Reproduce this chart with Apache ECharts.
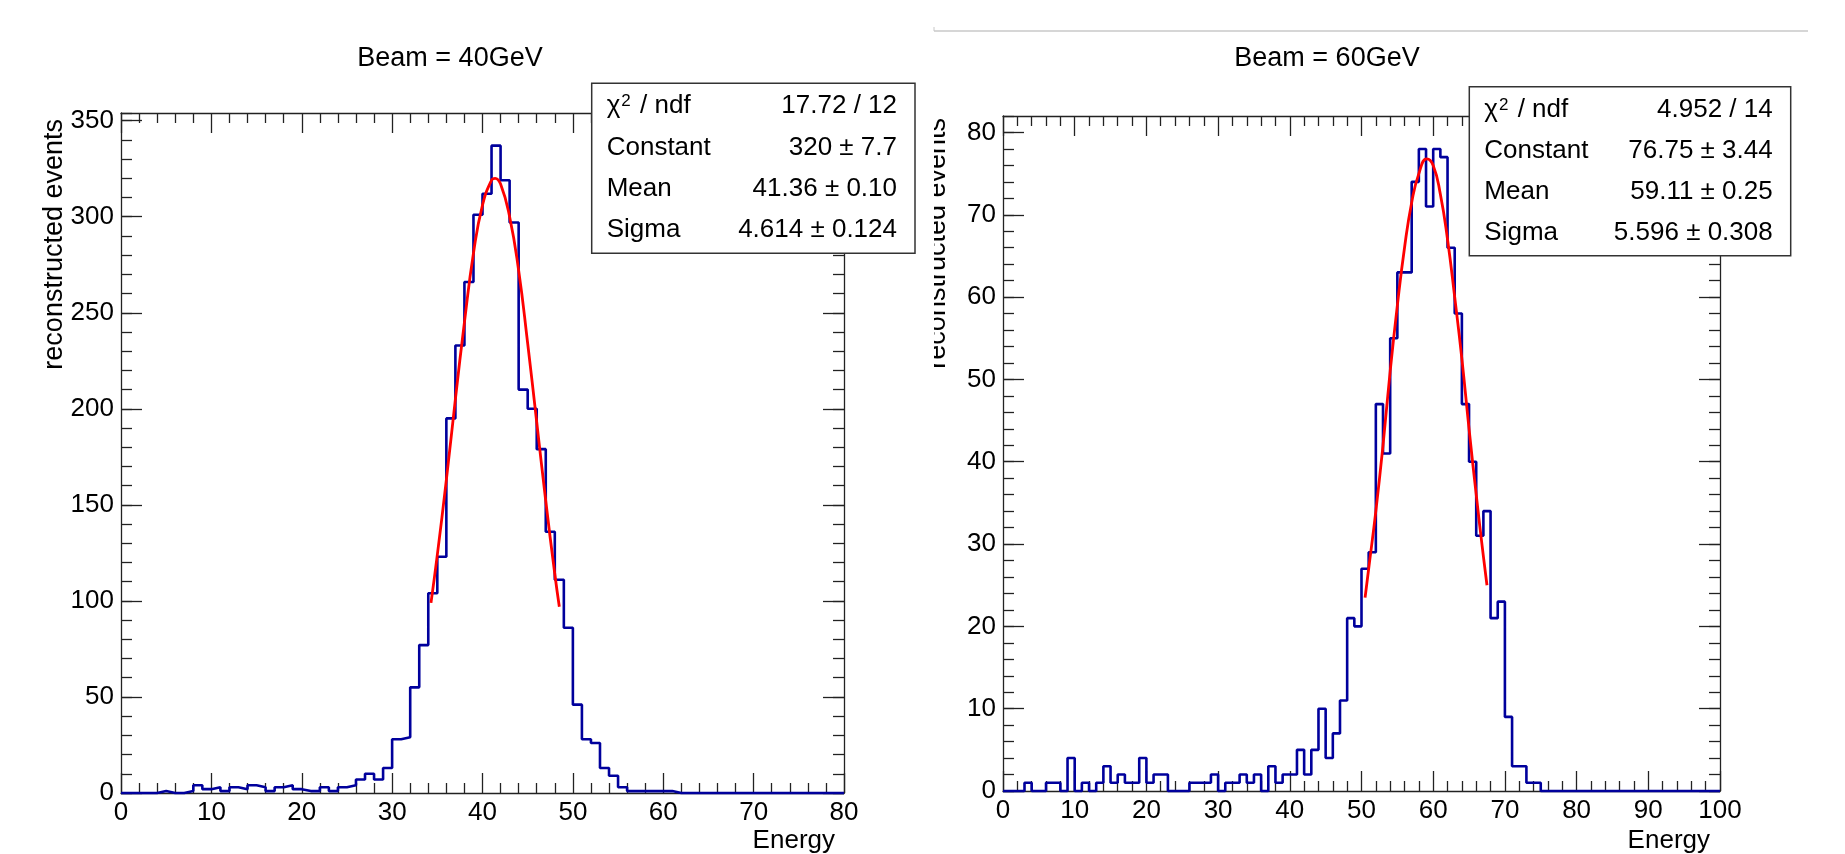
<!DOCTYPE html>
<html><head><meta charset="utf-8">
<script src="https://cdn.jsdelivr.net/npm/echarts@6/dist/echarts.min.js"></script>
<style>html,body{margin:0;padding:0;background:#fff}#c{width:1845px;height:854px}</style>
</head><body><div id="c"></div>
<script>
// ---------------- data ----------------
const leftTitle = 'Beam = 40GeV';
const rightTitle = 'Beam = 60GeV';
const xName = 'Energy';
const yName = 'reconstructed events';

// bin contents, 1 GeV bins starting at 0
const leftCounts = [0,0,0,0,1,0,0,1,4,2, 3,1,3,2,4,3,1,3,4,2,
  1,1,3,1,3,4,7,10,7,13, 28,29,55,77,104,123,195,233,266,301,
  312,337,319,297,210,200,179,136,111,86, 46,28,26,13,9,3,1,1,1,1,
  1,0,0,0,0,0,0,0,0,0, 0,0,0,0,0,0,0,0,0,0];
const rightCounts = [0,0,0,1,0,0,1,1,0,4, 0,1,0,1,3,1,2,1,1,4,
  1,2,2,0,0,0,1,1,1,2, 0,1,1,2,1,2,0,3,1,2,
  2,5,2,5,10,4,7,11,21,20, 27,29,47,41,55,63,63,74,78,71,
  78,77,66,58,47,40,31,34,21,23, 9,3,3,1,1,0,0,0,0,0,
  0,0,0,0,0,0,0,0,0,0, 0,0,0,0,0,0,0,0,0,0];

// fitted gaussian curves
const leftFitX = [34.3,35,36,37,38,39,40,41,41.4,42,43,44,45,46,47,48,48.5];
const leftFitY = [99,124,163,205,245,281,306,319,320,317,300,272,234,193,152,114,97];
const rightFitX = [50.5,51,52,53,54,55,56,57,58,59.1,60,61,62,63,64,65,66,67,67.5];
const rightFitY = [23.5,27,34,42,51,59,66,71.5,75,76.8,76,72.5,67,60,52.5,44,36,28.5,25];

// axis ranges: [min, max, major step, minor step]
const leftXAxis = [0, 80, 10, 2];
const leftYAxis = [0, 354, 50, 10];
const rightXAxis = [0, 100, 10, 2];
const rightYAxis = [0, 82, 10, 2];

// stat boxes
const statNames = ['χ² / ndf', 'Constant', 'Mean', 'Sigma'];
const leftStats = ['17.72 / 12', '320 ± 7.7', '41.36 ± 0.10', '4.614 ± 0.124'];
const rightStats = ['4.952 / 14', '76.75 ± 3.44', '59.11 ± 0.25', '5.596 ± 0.308'];

// ---------------- style ----------------
const FONT = '"Liberation Sans", Arial, Helvetica, sans-serif';
const AX = '#222';
const HIST = '#00009c';
const FIT = '#ff0000';

function histPoints(counts) {
  const pts = counts.map((v, i) => [i, v]);
  pts.push([counts.length, counts[counts.length - 1]]);
  return pts;
}
function zip(xs, ys) { return xs.map((x, i) => [x, ys[i]]); }

function xAxes(gridIndex, r) {
  const base = {
    type: 'value', gridIndex, min: r[0], max: r[1], interval: r[2],
    axisLine: {show: true, onZero: false, lineStyle: {color: AX, width: 1.3}},
    splitLine: {show: false},
    axisTick: {show: true, inside: true, length: 20, lineStyle: {color: AX, width: 1.3}},
    minorTick: {show: true, splitNumber: Math.round(r[2] / r[3]), length: 10, lineStyle: {color: AX, width: 1.3}},
    minorSplitLine: {show: false}
  };
  return [
    Object.assign({}, base, {position: 'bottom',
      axisLabel: {show: true, margin: 7, fontSize: 26, color: '#000', fontFamily: FONT}}),
    Object.assign({}, base, {position: 'top', axisLabel: {show: false}})
  ];
}
function yAxes(gridIndex, r) {
  const mk = (pos, step, len, labels, line) => ({
    type: 'value', gridIndex, position: pos, min: r[0], max: r[1], interval: step,
    axisLine: {show: line, onZero: false, lineStyle: {color: AX, width: 1.3}},
    splitLine: {show: false},
    axisTick: {show: true, inside: true, length: len, lineStyle: {color: AX, width: 1.3}},
    axisLabel: labels ? {show: true, margin: 7, fontSize: 26, color: '#000', fontFamily: FONT, showMaxLabel: false} : {show: false}
  });
  return [
    mk('left', r[2], 21, true, true),
    mk('left', r[3], 11, false, false),
    mk('right', r[2], 21, false, true),
    mk('right', r[3], 11, false, false)
  ];
}

const graphics = [];
function txt(x, y, text, align, vAlign, size, extra) {
  const o = {type: 'text', x, y, z: 101, silent: true,
    style: Object.assign({text, fontSize: size, fontFamily: FONT, fill: '#000',
      align, textAlign: align, verticalAlign: vAlign, textVerticalAlign: vAlign}, extra || {})};
  return o;
}
function statBox(x, y, w, h, vals) {
  graphics.push({type: 'rect', z: 100, silent: true, shape: {x, y, width: w, height: h},
    style: {fill: '#fff', stroke: '#333', lineWidth: 1.5}});
  statNames.forEach((n, i) => {
    const cy = y + 23 + i * 41.2;
    let label = n;
    let extra = null;
    if (n.indexOf('²') >= 0) {
      const parts = n.split('²');
      label = '{t|' + parts[0] + '}{s|2}{t|' + parts[1] + '}';
      extra = {rich: {t: {fontSize: 26, fontFamily: FONT, fill: '#000'},
                      s: {fontSize: 17, fontFamily: FONT, fill: '#000', verticalAlign: 'top', padding: [0, 2, 0, 1]}}};
    }
    graphics.push(txt(x + 15, cy, label, 'left', 'middle', 26, extra));
    graphics.push(txt(x + w - 18, cy, vals[i], 'right', 'middle', 26));
  });
}

// top thin grey line of the right picture
graphics.push({type: 'line', z: 100, silent: true, shape: {x1: 934, y1: 31, x2: 1808, y2: 31}, style: {stroke: '#c8c8c8', lineWidth: 1.5}});
graphics.push({type: 'line', z: 100, silent: true, shape: {x1: 934, y1: 27, x2: 934, y2: 31}, style: {stroke: '#c8c8c8', lineWidth: 1}});

// axis titles
graphics.push(Object.assign(txt(55, 119, yName, 'right', 'middle', 27), {rotation: Math.PI / 2}));
graphics.push(Object.assign(txt(938, 118, yName, 'right', 'middle', 27), {rotation: Math.PI / 2}));
// right picture is cut at its left edge
graphics.push({type: 'rect', z: 102, silent: true, shape: {x: 917, y: 95, width: 17, height: 340}, style: {fill: '#fff'}});
graphics.push(txt(835, 841, xName, 'right', 'middle', 26));
graphics.push(txt(1710, 841, xName, 'right', 'middle', 26));

statBox(591.7, 83.3, 323.3, 170, leftStats);
statBox(1469.3, 86.7, 321.4, 169, rightStats);

const option = {
  animation: false,
  backgroundColor: '#fff',
  title: [
    {text: leftTitle, left: 450, top: 45, textAlign: 'center', padding: 0,
     textStyle: {fontSize: 27, fontWeight: 'normal', color: '#000', fontFamily: FONT}},
    {text: rightTitle, left: 1327, top: 45, textAlign: 'center', padding: 0,
     textStyle: {fontSize: 27, fontWeight: 'normal', color: '#000', fontFamily: FONT}}
  ],
  grid: [
    {left: 121, top: 113, width: 723, height: 680, containLabel: false},
    {left: 1003, top: 116, width: 717, height: 675, containLabel: false}
  ],
  xAxis: [].concat(xAxes(0, leftXAxis), xAxes(1, rightXAxis)),
  yAxis: [].concat(yAxes(0, leftYAxis), yAxes(1, rightYAxis)),
  series: [
    {type: 'line', name: 'hist40', xAxisIndex: 0, yAxisIndex: 0, step: 'end', symbol: 'none', clip: false,
     data: histPoints(leftCounts), lineStyle: {color: HIST, width: 2.6}, z: 3},
    {type: 'line', name: 'fit40', xAxisIndex: 0, yAxisIndex: 0, smooth: true, symbol: 'none', clip: false,
     data: zip(leftFitX, leftFitY), lineStyle: {color: FIT, width: 2.8}, z: 4},
    {type: 'line', name: 'hist60', xAxisIndex: 2, yAxisIndex: 4, step: 'end', symbol: 'none', clip: false,
     data: histPoints(rightCounts), lineStyle: {color: HIST, width: 2.6}, z: 3},
    {type: 'line', name: 'fit60', xAxisIndex: 2, yAxisIndex: 4, smooth: true, symbol: 'none', clip: false,
     data: zip(rightFitX, rightFitY), lineStyle: {color: FIT, width: 2.8}, z: 4}
  ],
  graphic: graphics
};
const chart = echarts.init(document.getElementById('c'), null, {renderer: 'canvas'});
chart.setOption(option);
</script>
</body></html>
